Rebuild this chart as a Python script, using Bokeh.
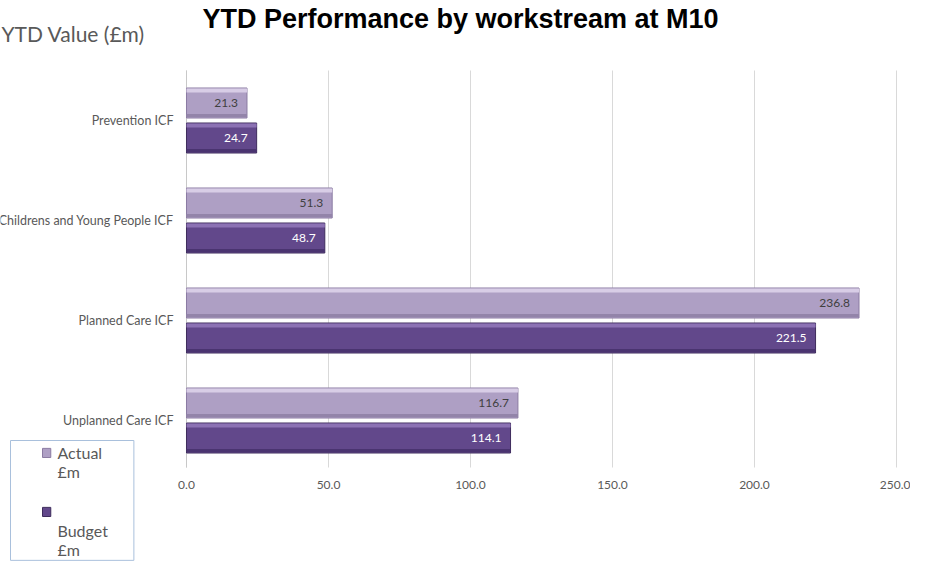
from bokeh.plotting import figure
from bokeh.models import ColumnDataSource, Range1d, Label, FixedTicker, NumeralTickFormatter
from bokeh.transform import dodge
from bokeh.core.properties import value
from bokeh.embed import file_html
from bokeh.resources import INLINE

# ---- data ----
categories = ["Prevention ICF", "Childrens and Young People ICF", "Planned Care ICF", "Unplanned Care ICF"]
actual = [21.3, 51.3, 236.8, 116.7]
budget = [24.7, 48.7, 221.5, 114.1]
x_ticks = [0, 50, 100, 150, 200, 250]
series_labels = ["Actual £m", "Budget £m"]

FONT = "Lato"
GREY = "#595959"
ACT_FILL, ACT_LINE = "#ae9fc4", "#8b7ba2"
BUD_FILL, BUD_LINE = "#62488b", "#3e2c5c"

idx = list(range(len(categories)))
src = ColumnDataSource(dict(
    pos=idx,
    actual=actual,
    budget=budget,
    actual_lbl=[f"{v:.1f}" for v in actual],
    budget_lbl=[f"{v:.1f}" for v in budget],
))

# the frame fills the whole canvas; axes are pinned with fixed_location
p = figure(
    width=910, height=561,
    x_range=Range1d(-65.49, 254.93),
    y_range=Range1d(4.41, -1.2),
    output_backend="svg", toolbar_location=None, min_border=0,
)
p.outline_line_color = None
p.background_fill_color = "white"
p.xgrid.grid_line_color = None
p.ygrid.grid_line_color = None

# grid lines (only across the plot area)
g_top, g_bot = -0.5, 3.47
p.segment(x0=x_ticks, x1=x_ticks, y0=[g_top] * len(x_ticks), y1=[g_bot] * len(x_ticks),
          line_color="#d9d9d9", line_width=1)
p.segment(x0=[0], x1=[0], y0=[g_top], y1=[g_bot], line_color="#c8c8c8", line_width=1)

# bars
p.hbar(y=dodge("pos", -0.175), right="actual", left=0, height=0.30, source=src,
       fill_color=ACT_FILL, line_color=ACT_LINE, line_width=1)
p.hbar(y=dodge("pos", 0.175), right="budget", left=0, height=0.30, source=src,
       fill_color=BUD_FILL, line_color=BUD_LINE, line_width=1)
# bevel highlights / shading
p.hbar(y=dodge("pos", -0.30), right="actual", left=0, height=0.04, source=src,
       fill_color="#d8cde6", line_color=None)
p.hbar(y=dodge("pos", 0.05), right="budget", left=0, height=0.04, source=src,
       fill_color="#8c72b4", line_color=None)
p.hbar(y=dodge("pos", -0.05), right="actual", left=0, height=0.03, source=src,
       fill_color="#9384a9", line_color=None)
p.hbar(y=dodge("pos", 0.30), right="budget", left=0, height=0.03, source=src,
       fill_color="#4a3470", line_color=None)

# value labels
p.text(x="actual", y=dodge("pos", -0.175), text="actual_lbl", source=src,
       text_align="right", text_baseline="middle", x_offset=-9,
       text_font=value(FONT), text_font_size="12px", text_color="#404040")
p.text(x="budget", y=dodge("pos", 0.175), text="budget_lbl", source=src,
       text_align="right", text_baseline="middle", x_offset=-9,
       text_font=value(FONT), text_font_size="12px", text_color="white")

# x axis pinned at the bottom of the plot area
p.xaxis.fixed_location = 3.5
p.xaxis.ticker = FixedTicker(ticks=x_ticks)
p.xaxis.formatter = NumeralTickFormatter(format="0.0")
p.xaxis.axis_line_color = None
p.xaxis.major_tick_line_color = None
p.xaxis.minor_tick_line_color = None
p.xaxis.major_label_standoff = 4
p.xaxis.major_label_text_font = FONT
p.xaxis.major_label_text_font_size = "12px"
p.xaxis.major_label_text_color = GREY

# y axis pinned at x = 0
p.yaxis.fixed_location = 0
p.yaxis.ticker = FixedTicker(ticks=idx)
p.yaxis.major_label_overrides = {i: c for i, c in zip(idx, categories)}
p.yaxis.axis_line_color = None
p.yaxis.major_tick_line_color = None
p.yaxis.minor_tick_line_color = None
p.yaxis.major_label_standoff = 7
p.yaxis.major_label_text_font = FONT
p.yaxis.major_label_text_font_size = "12.5px"
p.yaxis.major_label_text_color = GREY

# title and caption
p.add_layout(Label(x=460, y=18, x_units="canvas", y_units="canvas",
                   text="YTD Performance by workstream at M10", text_align="center",
                   text_baseline="middle", text_font="Liberation Sans",
                   text_font_style="bold", text_font_size="27px", text_color="#000000"))
p.add_layout(Label(x=1, y=33, x_units="canvas", y_units="canvas",
                   text="YTD Value (£m)", text_align="left", text_baseline="middle",
                   text_font=FONT, text_font_size="21px", text_color=GREY))

# legend box (Excel-style wrapped entries)
a_words = series_labels[0].split(" ")
b_words = series_labels[1].split(" ")
legend_text = "\n".join(a_words + ["", ""] + b_words)
p.add_layout(Label(x=10, y=440, x_units="canvas", y_units="canvas",
                   text=legend_text, text_align="left", text_baseline="top",
                   text_font=FONT, text_font_size="16px", text_color=GREY,
                   text_line_height=1.03,
                   border_line_color="#a9c0dc", border_line_width=1,
                   background_fill_color="white",
                   padding=dict(left=47, right=26, top=2, bottom=1)))
p.add_layout(Label(x=42, y=457, x_units="canvas", y_units="canvas", text=" ",
                   text_font_size="1px", background_fill_color=ACT_FILL,
                   border_line_color=ACT_LINE, padding=4))
p.add_layout(Label(x=42, y=516, x_units="canvas", y_units="canvas", text=" ",
                   text_font_size="1px", background_fill_color=BUD_FILL,
                   border_line_color=BUD_LINE, padding=4))

open("out.html", "w").write(file_html(p, INLINE))
